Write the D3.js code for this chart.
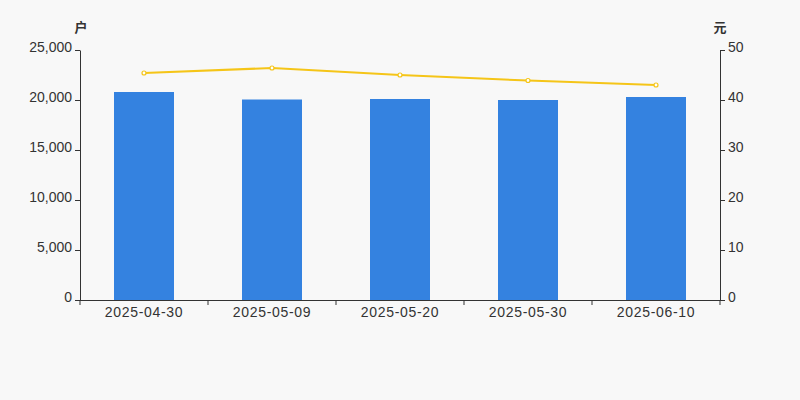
<!DOCTYPE html>
<html><head><meta charset="utf-8">
<script src="https://cdn.jsdelivr.net/npm/d3@7"></script>
<style>body{margin:0;background:#f8f8f8;}svg{display:block;font-family:"Liberation Sans",Arial,sans-serif;}</style>
</head><body><div id="c"></div>
<script>
const categories = ["2025-04-30","2025-05-09","2025-05-20","2025-05-30","2025-06-10"];
const holders = [20800, 20050, 20100, 20000, 20300];
const prices = [45.4, 46.4, 45.0, 43.9, 43.0];
const leftTicks = [0,5000,10000,15000,20000,25000];
const rightTicks = [0,10,20,30,40,50];

const W=800,H=400, L=80, R=720, T=50, B=300;
const svg=d3.select("#c").append("svg").attr("width",W).attr("height",H);
svg.append("rect").attr("width",W).attr("height",H).attr("fill","#f8f8f8");
const x=d3.scaleBand().domain(categories).range([L,R]);
const yL=d3.scaleLinear().domain([0,25000]).range([B,T]);
const yR=d3.scaleLinear().domain([0,50]).range([B,T]);
const bw=60;

svg.append("g").selectAll("rect").data(holders).join("rect")
 .attr("x",(d,i)=>x(categories[i])+x.bandwidth()/2-bw/2).attr("width",bw)
 .attr("y",d=>yL(d)).attr("height",d=>B-yL(d)).attr("fill","#3482e0");

const ax=(g)=>{g.selectAll("path,line").attr("stroke","#333");g.selectAll("text").attr("fill","#333").style("font-size","14px");};
svg.append("g").attr("transform",`translate(${L},0)`)
 .call(d3.axisLeft(yL).tickValues(leftTicks).tickFormat(d3.format(",")).tickSize(5).tickSizeOuter(0).tickPadding(3)).call(ax)
 .selectAll("text").attr("dy","0.12em");
svg.append("g").attr("transform",`translate(${R},0)`)
 .call(d3.axisRight(yR).tickValues(rightTicks).tickSize(5).tickSizeOuter(0).tickPadding(3)).call(ax)
 .selectAll("text").attr("dy","0.12em");
const xa=svg.append("g").attr("transform",`translate(0,${B})`)
 .call(d3.axisBottom(x).tickSize(0).tickPadding(7)).call(ax);
xa.selectAll("text").style("letter-spacing","0.7px");
xa.select(".domain").attr("d",`M${L},0.5H${R}`);
const bounds=[...categories.map(c=>x(c)), R];
xa.selectAll(".bt").data(bounds).join("line").attr("class","bt")
 .attr("x1",d=>d).attr("x2",d=>d).attr("y1",0).attr("y2",5).attr("stroke","#333");

const line=d3.line().x((d,i)=>x(categories[i])+x.bandwidth()/2).y(d=>yR(d));
svg.append("path").datum(prices).attr("d",line).attr("fill","none").attr("stroke","#f5c518").attr("stroke-width",2);
svg.append("g").selectAll("circle").data(prices).join("circle")
 .attr("cx",(d,i)=>x(categories[i])+x.bandwidth()/2).attr("cy",d=>yR(d)).attr("r",2)
 .attr("fill","#fff").attr("stroke","#f5c518").attr("stroke-width",1.2);

svg.append("text").attr("x",81).attr("y",32).attr("text-anchor","middle").attr("fill","#333").style("font-size","13px").style("font-weight","bold").style("font-family","'Noto Sans CJK SC'").text("户");
svg.append("text").attr("x",720).attr("y",32).attr("text-anchor","middle").attr("fill","#333").style("font-size","13px").style("font-weight","bold").style("font-family","'Noto Sans CJK SC'").text("元");
</script></body></html>
